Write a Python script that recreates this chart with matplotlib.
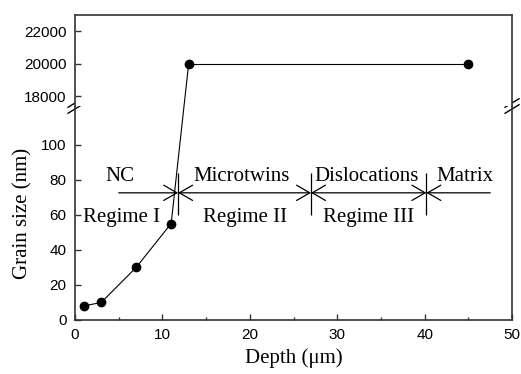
import matplotlib
matplotlib.use("Agg")
import matplotlib.pyplot as plt
from matplotlib.patches import ConnectionPatch
import numpy as np

# grain size vs depth (broken y axis)
depth = [1, 3, 7, 11, 13, 45]
grain = [8, 10, 30, 55, 20000, 20000]
n_low = 4  # first four points sit on the lower (nm) part

low_yticks = [0, 20, 40, 60, 80, 100]
high_yticks = [18000, 20000, 22000]
xticks = [0, 10, 20, 30, 40, 50]

# regime boundaries and labels
bounds = [5, 11.8, 27, 40.2, 47.5]
band_y = 72.5
top_labels = ["NC", "Microtwins", "Dislocations", "Matrix"]
top_x = [5.15, 19.0, 33.4, 44.6]
bottom_labels = ["Regime I", "Regime II", "Regime III"]
bottom_x = [5.3, 19.5, 33.6]

serif = "Liberation Serif"
sans = "Liberation Sans"
spine_c = "#333333"

fig = plt.figure(figsize=(5.21, 3.74), dpi=100)
ax_lo = fig.add_axes([0.1440, 0.1444, 0.8388, 0.5722])
ax_hi = fig.add_axes([0.1440, 0.7166, 0.8388, 0.2433])

ax_lo.plot(depth[:n_low], grain[:n_low], "-o", color="black", lw=0.8, ms=6)
ax_hi.plot(depth[n_low:], grain[n_low:], "-o", color="black", lw=0.8, ms=6)

# line crossing the break, straight in screen space
con = ConnectionPatch(xyA=(depth[n_low - 1], grain[n_low - 1]), coordsA="data", axesA=ax_lo,
                      xyB=(depth[n_low], grain[n_low]), coordsB="data", axesB=ax_hi,
                      color="black", lw=0.8)
fig.add_artist(con)

ax_lo.set_xlim(0, 50)
ax_hi.set_xlim(0, 50)
ax_lo.set_ylim(0, 122)
ax_hi.set_ylim(17400, 23000)

ax_lo.set_xticks(xticks)
ax_lo.set_xticks(np.arange(5, 50, 10), minor=True)
ax_lo.set_yticks(low_yticks)
ax_hi.set_yticks(high_yticks)
ax_hi.set_xticks([])

for ax in (ax_lo, ax_hi):
    for s in ax.spines.values():
        s.set_color(spine_c)
        s.set_linewidth(1.2)
    ax.tick_params(direction="in", length=4, width=1, colors=spine_c, pad=6,
                   labelsize=11, labelcolor="black")
    ax.tick_params(which="minor", direction="in", length=2.5, width=1, colors=spine_c)
    for lab in ax.get_xticklabels() + ax.get_yticklabels():
        lab.set_fontfamily(sans)
ax_lo.spines["top"].set_visible(False)
ax_hi.spines["bottom"].set_visible(False)

ax_lo.set_xlabel("Depth (\u03bcm)", fontfamily=serif, fontsize=15, labelpad=4)
ax_lo.set_ylabel("Grain size (nm)", fontfamily=serif, fontsize=15, labelpad=6)

# regime band: arrows pointing into each boundary
ax_lo.vlines(bounds[1:4], 60, 84, color="black", lw=0.9)
style_kw = dict(color="black", lw=0.9, shrinkA=0, shrinkB=0, mutation_scale=10)
for i in range(len(bounds) - 1):
    a, b = bounds[i], bounds[i + 1]
    if i == 0:
        st = "->"
    elif i == len(bounds) - 2:
        st = "<-"
    else:
        st = "<->"
    ax_lo.annotate("", xy=(b, band_y), xytext=(a, band_y),
                   arrowprops=dict(arrowstyle=st + ",head_length=0.95,head_width=0.55", **style_kw))

for t, x in zip(top_labels, top_x):
    ax_lo.text(x, 79.5, t, ha="center", va="baseline", fontfamily=serif, fontsize=15)
for t, x in zip(bottom_labels, bottom_x):
    ax_lo.text(x, 56, t, ha="center", va="baseline", fontfamily=serif, fontsize=15)

# break marks on both spines
for xc in (0, 1):
    for off in (-0.014, 0.014):
        ax_lo.plot([xc - 0.016, xc + 0.016], [1 + off - 0.02, 1 + off + 0.02],
                   transform=ax_lo.transAxes, color="black", lw=1, clip_on=False)

fig.savefig("out.png", dpi=100)
